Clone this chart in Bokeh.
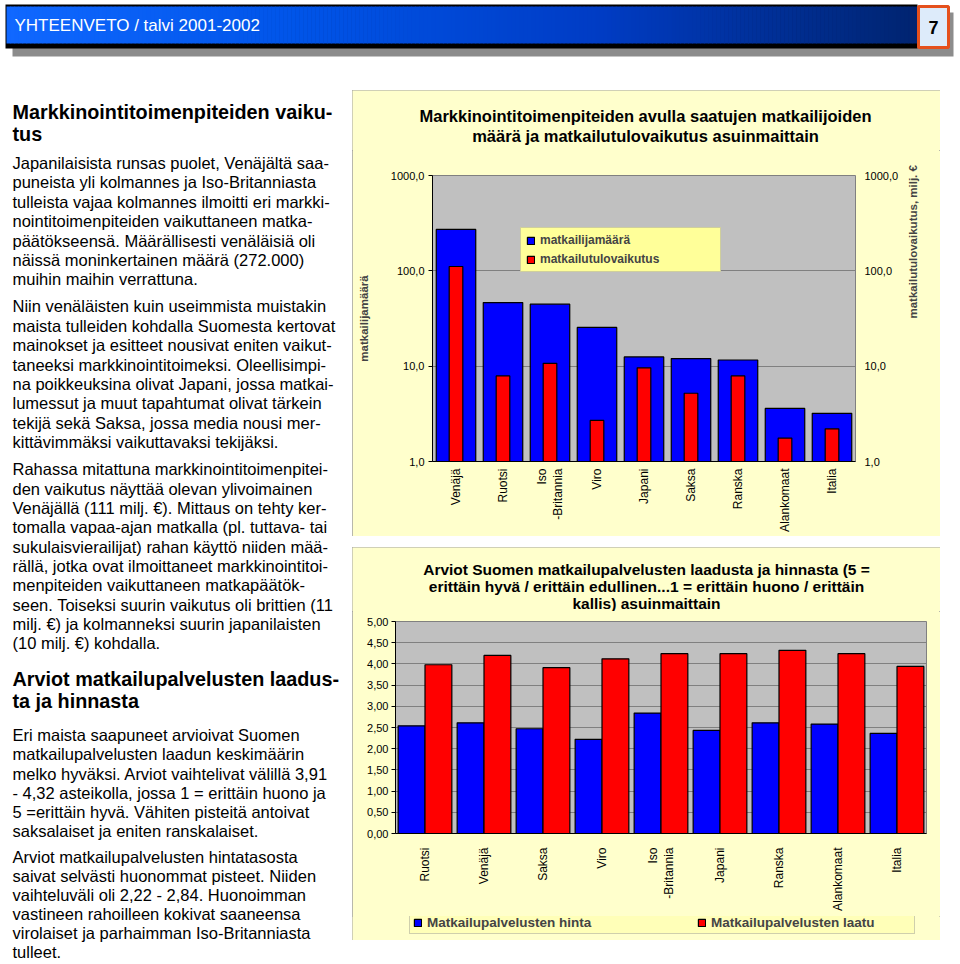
import math
import numpy as np
from bokeh.plotting import figure
from bokeh.layouts import row, column
from bokeh.models import (Range1d, FactorRange, LogScale, LogAxis, FixedTicker,
                          Legend, LegendItem, Spacer, ColumnDataSource)
from bokeh.transform import dodge
from bokeh.core.properties import value
from bokeh.embed import file_html
from bokeh.resources import INLINE

FONT = "Liberation Sans"
PANEL = "#FFFFCC"
PLOTBG = "#C0C0C0"
GRID = "#808080"
BLUE = "#0000FF"
RED = "#FF0000"

# ---------------- data ----------------
header_title = "YHTEENVETO / talvi 2001-2002"
page_number = "7"

top_title = ["Markkinointitoimenpiteiden avulla saatujen matkailijoiden",
             "määrä ja matkailutulovaikutus asuinmaittain"]
top_countries = ["Venäjä", "Ruotsi", "Iso\n-Britannia", "Viro", "Japani",
                 "Saksa", "Ranska", "Alankomaat", "Italia"]
visitors = [272, 46.5, 44.7, 25.5, 12.5, 12.0, 11.6, 3.6, 3.2]
income = [111, 7.9, 10.7, 2.7, 9.6, 5.2, 7.9, 1.76, 2.2]
log_ticks = [1, 10, 100, 1000]
log_tick_labels = ["1,0", "10,0", "100,0", "1000,0"]
top_left_label = "matkailijamäärä"
top_right_label = "matkailutulovaikutus, milj. €"
top_series = ["matkailijamäärä", "matkailutulovaikutus"]

bottom_title = ["Arviot Suomen matkailupalvelusten laadusta ja hinnasta (5 =",
                "erittäin hyvä / erittäin edullinen...1 = erittäin huono / erittäin",
                "kallis) asuinmaittain"]
rating_countries = ["Ruotsi", "Venäjä", "Saksa", "Viro", "Iso\n-Britannia",
                    "Japani", "Ranska", "Alankomaat", "Italia"]
price_rating = [2.54, 2.61, 2.47, 2.22, 2.84, 2.43, 2.61, 2.58, 2.36]
quality_rating = [3.98, 4.20, 3.91, 4.12, 4.24, 4.24, 4.32, 4.24, 3.94]
rating_ticks = [0.0, 0.5, 1.0, 1.5, 2.0, 2.5, 3.0, 3.5, 4.0, 4.5, 5.0]
rating_tick_labels = ["0,00", "0,50", "1,00", "1,50", "2,00", "2,50",
                      "3,00", "3,50", "4,00", "4,50", "5,00"]
bottom_series = ["Matkailupalvelusten hinta", "Matkailupalvelusten laatu"]

heading1 = ["Markkinointitoimenpiteiden vaiku-", "tus"]
para1 = ["Japanilaisista runsas puolet, Venäjältä saa-",
         "puneista yli kolmannes ja Iso-Britanniasta",
         "tulleista vajaa kolmannes ilmoitti eri markki-",
         "nointitoimenpiteiden vaikuttaneen matka-",
         "päätökseensä. Määrällisesti venäläisiä oli",
         "näissä moninkertainen määrä (272.000)",
         "muihin maihin verrattuna."]
para2 = ["Niin venäläisten kuin useimmista muistakin",
         "maista tulleiden kohdalla Suomesta kertovat",
         "mainokset ja esitteet nousivat eniten vaikut-",
         "taneeksi markkinointitoimeksi. Oleellisimpi-",
         "na poikkeuksina olivat Japani, jossa matkai-",
         "lumessut ja muut tapahtumat olivat tärkein",
         "tekijä sekä Saksa, jossa media nousi mer-",
         "kittävimmäksi vaikuttavaksi tekijäksi."]
para3 = ["Rahassa mitattuna markkinointitoimenpitei-",
         "den vaikutus näyttää olevan ylivoimainen",
         "Venäjällä (111 milj. €). Mittaus on tehty ker-",
         "tomalla vapaa-ajan matkalla (pl. tuttava- tai",
         "sukulaisvierailijat) rahan käyttö niiden mää-",
         "rällä, jotka ovat ilmoittaneet markkinointitoi-",
         "menpiteiden vaikuttaneen matkapäätök-",
         "seen. Toiseksi suurin vaikutus oli brittien (11",
         "milj. €) ja kolmanneksi suurin japanilaisten",
         "(10 milj. €) kohdalla."]
heading2 = ["Arviot matkailupalvelusten laadus-", "ta ja hinnasta"]
para4 = ["Eri maista saapuneet arvioivat Suomen",
         "matkailupalvelusten laadun keskimäärin",
         "melko hyväksi. Arviot vaihtelivat välillä 3,91",
         "- 4,32 asteikolla, jossa 1 = erittäin huono ja",
         "5 =erittäin hyvä. Vähiten pisteitä antoivat",
         "saksalaiset ja eniten ranskalaiset."]
para5 = ["Arviot matkailupalvelusten hintatasosta",
         "saivat selvästi huonommat pisteet. Niiden",
         "vaihteluväli oli 2,22 - 2,84. Huonoimman",
         "vastineen rahoilleen kokivat saaneensa",
         "virolaiset ja parhaimman Iso-Britanniasta",
         "tulleet."]


def blank_fig(width, height, x0, x1, y_top, y_bottom, bg):
    f = figure(width=width, height=height, x_range=Range1d(x0, x1),
               y_range=Range1d(y_bottom, y_top), x_axis_location=None,
               y_axis_location=None, output_backend="svg", toolbar_location=None,
               min_border=0, title=None)
    f.grid.visible = False
    f.outline_line_color = None
    f.background_fill_color = bg
    f.border_fill_color = bg
    return f


PANEL_STYLE = {"outline": "1px solid #A0A0A0", "outline-offset": "-1px",
               "background-color": PANEL}

# ---------------- header ----------------
hp = blank_fig(960, 70, 0, 960, 0, 70, "white")
hp.quad(left=[12], right=[953], top=[12], bottom=[56], fill_color="#8C8C8C", line_color=None)
hp.quad(left=[5], right=[917], top=[4], bottom=[48], fill_color="black", line_color=None)
edges = np.linspace(6, 916, 228)
stops_x = [6, 300, 600, 916]
stops_rgb = np.array([[16, 104, 255], [0, 84, 232], [0, 60, 196], [0, 36, 112]])
mids = (edges[:-1] + edges[1:]) / 2
cols = []
for m in mids:
    rgb = [np.interp(m, stops_x, stops_rgb[:, k]) for k in range(3)]
    cols.append("#%02x%02x%02x" % tuple(int(round(c)) for c in rgb))
hp.quad(left=edges[:-1], right=edges[1:] + 0.6, top=[6] * len(mids), bottom=[43] * len(mids),
        fill_color=cols, line_color=None)
hp.quad(left=[918], right=[948], top=[6], bottom=[47], fill_color="#DDEBFA",
        line_color="#E5501C", line_width=3)
hp.text(x=[14], y=[25], text=[header_title], text_color="white",
        text_font=value(FONT), text_font_size="17px", text_baseline="middle", text_align="left")
hp.text(x=[933], y=[27], text=[page_number], text_color="black", text_font_style="bold",
        text_font=value(FONT), text_font_size="18px", text_baseline="middle", text_align="center")

# ---------------- left text column ----------------
tp = blank_fig(352, 892, 0, 352, 70, 962, "white")
blocks = [(heading1, 112, 21.5, True), (para1, 163, 19.5, False),
          (para2, 307, 19.5, False), (para3, 471, 19.4, False),
          (heading2, 682, 21.5, True), (para4, 738, 19.3, False),
          (para5, 860.5, 19.0, False)]
for lines, y0, step, bold in blocks:
    ys = [70 + (y0 + i * step - 70) * 0.995 for i in range(len(lines))]
    tp.text(x=[12] * len(lines), y=ys, text=lines, text_color="black",
            text_font=value(FONT), text_font_size="19.8px" if bold else "16.5px",
            text_font_style="bold" if bold else "normal",
            text_baseline="middle", text_align="left")


def style_axis(ax, size="11px"):
    ax.major_label_text_font = FONT
    ax.major_label_text_font_size = size
    ax.major_label_text_color = "black"
    ax.axis_line_color = "black"
    ax.major_tick_line_color = "black"
    ax.major_tick_in = 0
    ax.major_tick_out = 4
    ax.minor_tick_line_color = None


# ---------------- top chart ----------------
ttl_t = blank_fig(588, 60, 0, 588, 0, 60, PANEL)
ttl_t.text(x=[293, 293], y=[25, 45], text=top_title, text_color="black",
           text_font=value(FONT), text_font_size="16.5px", text_font_style="bold",
           text_baseline="middle", text_align="center")

tsrc = ColumnDataSource(dict(country=top_countries, visitors=visitors, income=income))
pt = figure(width=588, height=386, x_range=FactorRange(factors=top_countries),
            y_range=Range1d(1, 1000), y_axis_type="log", output_backend="svg",
            toolbar_location=None, title=None, min_border_left=80, min_border_right=85,
            min_border_top=25, min_border_bottom=75)
pt.background_fill_color = PLOTBG
pt.border_fill_color = PANEL
pt.outline_line_color = GRID
pt.extra_y_ranges = {"income": Range1d(1, 1000)}
pt.extra_y_scales = {"income": LogScale()}
pt.xgrid.grid_line_color = None
pt.ygrid.grid_line_color = GRID
pt.ygrid.ticker = FixedTicker(ticks=log_ticks)

r_vis = pt.vbar(x="country", top="visitors", bottom=1, width=0.84, source=tsrc,
                fill_color=BLUE, line_color="black", line_width=1.2)
r_inc = pt.vbar(x="country", top="income", bottom=1, width=0.29, source=tsrc,
                fill_color=RED, line_color="black", line_width=1.2, y_range_name="income")

ly = pt.yaxis[0]
ly.ticker = FixedTicker(ticks=log_ticks)
ly.major_label_overrides = dict(zip(log_ticks, log_tick_labels))
style_axis(ly)
ly.major_label_standoff = 4
ly.axis_label = top_left_label
ly.axis_label_text_font = FONT
ly.axis_label_text_font_size = "11.5px"
ly.axis_label_text_font_style = "bold"
ly.axis_label_standoff = 18

ry = LogAxis(y_range_name="income", ticker=FixedTicker(ticks=log_ticks))
ry.major_label_overrides = dict(zip(log_ticks, log_tick_labels))
style_axis(ry)
ry.axis_line_color = None
ry.major_tick_line_color = None
ry.major_label_standoff = 5
ry.axis_label = top_right_label
ry.axis_label_text_font = FONT
ry.axis_label_text_font_size = "11.5px"
ry.axis_label_text_font_style = "bold"
ry.axis_label_standoff = 12
if "axis_label_orientation" in ry.properties():
    ry.axis_label_orientation = math.pi / 2
pt.add_layout(ry, "right")

tx = pt.xaxis[0]
style_axis(tx, "12px")
tx.major_tick_line_color = None
tx.major_label_orientation = math.pi / 2
tx.major_label_standoff = 3

leg_t = Legend(items=[LegendItem(label=top_series[0], renderers=[r_vis]),
                      LegendItem(label=top_series[1], renderers=[r_inc])],
               location=(88, 189), orientation="vertical",
               background_fill_color="#FFFF99", background_fill_alpha=1,
               border_line_color="#A0A0A0", label_text_font=FONT,
               label_text_font_style="bold", label_text_font_size="12px",
               glyph_width=9, glyph_height=9, label_height=11, label_width=175,
               spacing=5, padding=5, margin=0, label_standoff=5)
pt.add_layout(leg_t, "center")

top_panel = column(row(ttl_t), row(pt), styles=PANEL_STYLE)

# ---------------- bottom chart ----------------
ttl_b = blank_fig(588, 64, 0, 588, 0, 64, PANEL)
ttl_b.text(x=[294, 294, 294], y=[22, 39, 56], text=bottom_title, text_color="black",
           text_font=value(FONT), text_font_size="15.5px", text_font_style="bold",
           text_baseline="middle", text_align="center")

bsrc = ColumnDataSource(dict(country=rating_countries, price=price_rating, quality=quality_rating))
pb = figure(width=588, height=305, x_range=FactorRange(factors=rating_countries),
            y_range=Range1d(0, 5), output_backend="svg", toolbar_location=None, title=None,
            min_border_left=43, min_border_right=14, min_border_top=10, min_border_bottom=83)
pb.background_fill_color = PLOTBG
pb.border_fill_color = PANEL
pb.outline_line_color = GRID
pb.xgrid.grid_line_color = None
pb.ygrid.grid_line_color = GRID
pb.ygrid.ticker = FixedTicker(ticks=rating_ticks)

r_price = pb.vbar(x=dodge("country", -0.2275, range=pb.x_range), top="price", width=0.455,
                  source=bsrc, fill_color=BLUE, line_color="black", line_width=1.2)
r_qual = pb.vbar(x=dodge("country", 0.2275, range=pb.x_range), top="quality", width=0.455,
                 source=bsrc, fill_color=RED, line_color="black", line_width=1.2)

by = pb.yaxis[0]
by.ticker = FixedTicker(ticks=rating_ticks)
by.major_label_overrides = dict(zip(rating_ticks, rating_tick_labels))
style_axis(by)
by.major_label_standoff = 3

bx = pb.xaxis[0]
style_axis(bx, "12px")
bx.major_tick_line_color = None
bx.major_label_orientation = math.pi / 2
bx.major_label_standoff = 10

# legend strip of the bottom chart (its own small canvas under the chart)
lf = figure(width=588, height=24, x_range=FactorRange(factors=rating_countries),
            y_range=Range1d(100, 101), x_axis_location=None, y_axis_location=None,
            output_backend="svg", toolbar_location=None, min_border=0, title=None)
lf.grid.visible = False
lf.outline_line_color = None
lf.background_fill_color = PANEL
lf.border_fill_color = PANEL
l_price = lf.vbar(x="country", top="price", width=0.455, source=bsrc,
                  fill_color=BLUE, line_color="black", line_width=1.2)
l_qual = lf.vbar(x="country", top="quality", width=0.455, source=bsrc,
                 fill_color=RED, line_color="black", line_width=1.2)
leg_b = Legend(items=[LegendItem(label=bottom_series[0], renderers=[l_price]),
                      LegendItem(label=bottom_series[1], renderers=[l_qual])],
               location=(57, 6), orientation="horizontal",
               background_fill_color="#FFFFB8", background_fill_alpha=1,
               border_line_color="#A0A0A0", label_text_font=FONT,
               label_text_font_style="bold", label_text_font_size="13.5px",
               glyph_width=9, glyph_height=9, label_height=12, label_width=200,
               spacing=70, padding=3, margin=0, label_standoff=5)
lf.add_layout(leg_b, "center")

bottom_panel = column(row(ttl_b), row(pb), row(lf), styles=PANEL_STYLE)

# ---------------- layout ----------------
right = column(Spacer(width=588, height=20), top_panel, Spacer(width=588, height=11), bottom_panel)
body = row(tp, right)
page = column(hp, body)

open("out.html", "w").write(file_html(page, INLINE))
